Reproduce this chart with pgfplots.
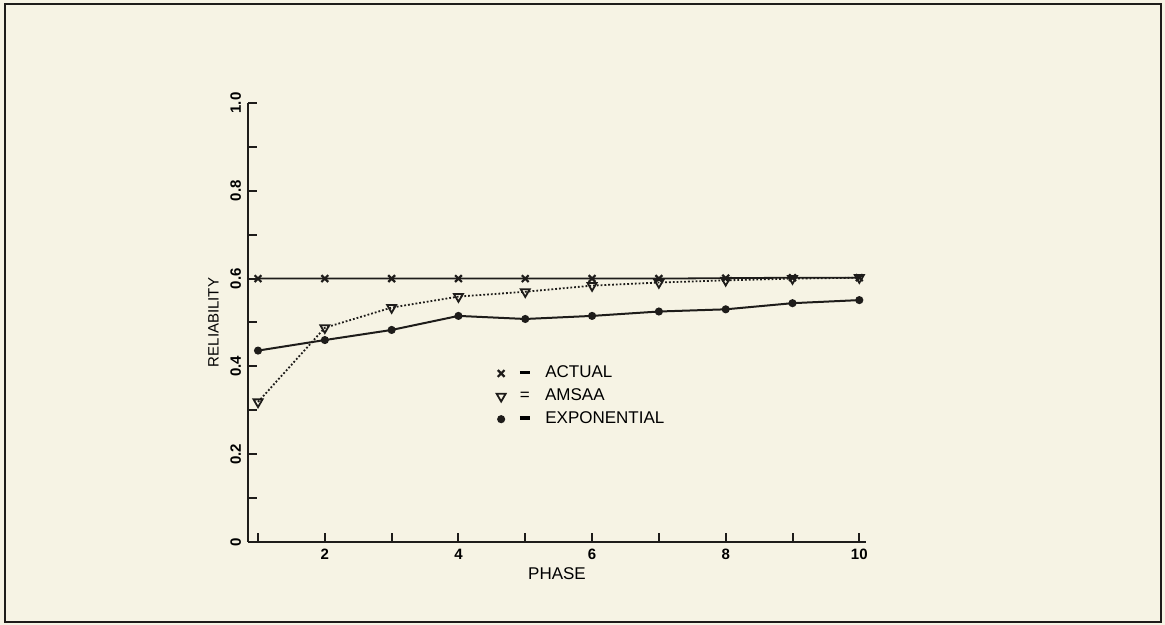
\documentclass[border=0pt]{standalone}
\usepackage{fontspec}
\setmainfont{Liberation Sans}
\usepackage{pgfplots}
\pgfplotsset{compat=1.18}
\definecolor{paper}{RGB}{246,243,228}
\definecolor{ink}{RGB}{30,28,26}

\begin{document}
\begin{tikzpicture}
\useasboundingbox (0,0) rectangle (582.5pt,312.5pt);
\fill[paper] (0,0) rectangle (582.5pt,312.5pt);
\draw[ink, line width=0.9pt] (2.5pt,1.5pt) rectangle (580.5pt,310.5pt);
\begin{axis}[
    at={(124pt,41.5pt)}, anchor=south west,
    scale only axis,
    width=309pt, height=219.5pt,
    xmin=0.85, xmax=10.1,
    ymin=0, ymax=1,
    axis lines*=left,
    axis line style={ink, line width=1.4pt},
    tick align=inside,
    major tick length=4.5pt,
    minor tick length=4.5pt,
    tick style={ink, line width=1pt},
    xtick={1,2,...,10},
    xticklabels={,2,,4,,6,,8,,10},
    ytick={0,0.2,0.4,0.6,0.8,1},
    yticklabels={0,0.2,0.4,0.6,0.8,1.0},
    minor ytick={0.1,0.3,0.5,0.7,0.9},
    yticklabel style={rotate=90, anchor=south, font=\fontsize{7.5}{8}\selectfont\bfseries},
    xticklabel style={font=\fontsize{7.5}{8}\selectfont\bfseries},
    /pgf/number format/assume math mode=true,
    xlabel={PHASE}, ylabel={RELIABILITY},
    xlabel style={font=\fontsize{8.5}{9}\selectfont, yshift=3pt},
    ylabel style={font=\fontsize{7.5}{9}\selectfont, yshift=-1pt},
    legend style={draw=none, fill=none, at={(0.392,0.42)}, anchor=north west,
        font=\fontsize{8.5}{10}\selectfont, row sep=0pt,
        cells={anchor=west}},
    legend image post style={only marks},
    legend cell align=left,
]
\addplot[ink, line width=0.9pt, mark=x, mark size=2.4pt, mark options={line width=1.1pt}] coordinates {
    (1,0.6) (2,0.6) (3,0.6) (4,0.6) (5,0.6)
    (6,0.6) (7,0.6) (8,0.601) (9,0.602) (10,0.602)
};
\addlegendentry{\hspace{0.6em}\rule[0.22em]{0.6em}{0.2em}\hspace{0.9em}ACTUAL}
\addplot[ink, line width=0.9pt, densely dotted, mark=triangle, mark size=2.6pt,
    mark options={solid, rotate=180, line width=0.9pt, fill=paper}] coordinates {
    (1,0.319) (2,0.488) (3,0.534) (4,0.559) (5,0.570)
    (6,0.584) (7,0.591) (8,0.596) (9,0.600) (10,0.602)
};
\addlegendentry{\hspace{0.6em}=\hspace{0.9em}AMSAA}
\addplot[ink, line width=1pt, mark=*, mark size=1.5pt] coordinates {
    (1,0.436) (2,0.460) (3,0.483) (4,0.515) (5,0.508)
    (6,0.515) (7,0.525) (8,0.530) (9,0.544) (10,0.551)
};
\addlegendentry{\hspace{0.6em}\rule[0.22em]{0.6em}{0.2em}\hspace{0.9em}EXPONENTIAL}
\end{axis}
\end{tikzpicture}
\end{document}
